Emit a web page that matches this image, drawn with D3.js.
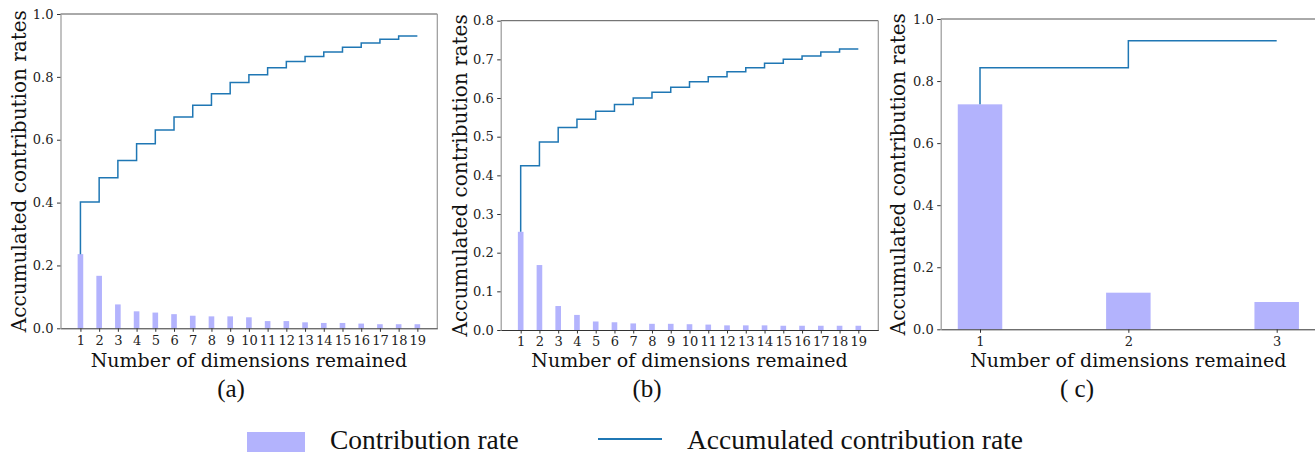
<!DOCTYPE html>
<html>
<head>
<meta charset="utf-8">
<script src="https://cdn.jsdelivr.net/npm/d3@7"></script>
<style>
  body { margin: 0; background: #fff; }
  .tick text { font-family: "DejaVu Serif", serif; font-size: 13px; fill: #222; }
</style>
</head>
<body>
<div id="container"></div>
<script>
/* DATA */
const dims19 = d3.range(1, 20)
const dims3 = [1, 2, 3]

const contribA = [0.236, 0.167, 0.076, 0.054, 0.050, 0.045, 0.040, 0.038, 0.038, 0.035,
  0.023, 0.023, 0.019, 0.017, 0.017, 0.015, 0.013, 0.013, 0.013]
const accumA = [0.236, 0.402, 0.479, 0.534, 0.587, 0.631, 0.672, 0.710, 0.746, 0.782,
  0.807, 0.829, 0.849, 0.865, 0.879, 0.894, 0.908, 0.920, 0.930]

const contribB = [0.254, 0.168, 0.062, 0.039, 0.022, 0.020, 0.017, 0.016, 0.016, 0.015,
  0.014, 0.012, 0.012, 0.012, 0.011, 0.011, 0.011, 0.011, 0.011]
const accumB = [0.254, 0.425, 0.486, 0.524, 0.545, 0.566, 0.583, 0.600, 0.615, 0.628,
  0.642, 0.655, 0.668, 0.678, 0.690, 0.700, 0.709, 0.719, 0.727]

const contribC = [0.725, 0.118, 0.088]
const accumC = [0.725, 0.843, 0.930]

const yTicksAC = [0, 0.2, 0.4, 0.6, 0.8, 1.0]
const yTicksB = [0, 0.1, 0.2, 0.3, 0.4, 0.5, 0.6, 0.7, 0.8]

const captions = ["(a)", "(b)", "( c)"]
const legendLabels = ["Contribution rate", "Accumulated contribution rate"]

/* CONSTANTS */
const width = 1315, height = 455
const barColor = "#b3b3fd", lineColor = "#1f77b4"
const barWidth = 0.3

const svg = d3.select("#container")
  .append("svg")
  .attr("width", width)
  .attr("height", height)

svg.append("rect").attr("width", width).attr("height", height).attr("fill", "#fff")

// pixel frame of each axes
const panels = [
  { dims: dims19, contrib: contribA, accum: accumA, yMax: 1.0, yTicks: yTicksAC,
    left: 60.5, right: 437.3, top: 14, bottom: 328.3, ylabX: 19, capX: 231 },
  { dims: dims19, contrib: contribB, accum: accumB, yMax: 0.8, yTicks: yTicksB,
    left: 500.7, right: 878.3, top: 20.7, bottom: 330, ylabX: 460, capX: 647 },
  { dims: dims3, contrib: contribC, accum: accumC, yMax: 1.0, yTicks: yTicksAC,
    left: 940.7, right: 1316, top: 19, bottom: 329.3, ylabX: 898, capX: 1077 },
]

panels.forEach((p, i) => {
  const n = p.dims.length
  // matplotlib-like auto margins: 5% of the bar extent
  const lo = 1 - barWidth / 2, hi = n + barWidth / 2
  const pad = (hi - lo) * 0.05

  const x = d3.scaleLinear().domain([lo - pad, hi + pad]).range([p.left, p.right])
  const y = d3.scaleLinear().domain([0, p.yMax]).range([p.bottom, p.top])

  const g = svg.append("g")

  // BARS
  g.selectAll("rect.bar")
    .data(p.contrib)
    .join("rect")
    .attr("class", "bar")
    .attr("x", (d, j) => x(p.dims[j] - barWidth / 2))
    .attr("width", (d, j) => x(p.dims[j] + barWidth / 2) - x(p.dims[j] - barWidth / 2))
    .attr("y", d => y(d))
    .attr("height", d => y(0) - y(d))
    .attr("fill", barColor)

  // STEP LINE
  const line = d3.line()
    .x((d, j) => x(p.dims[j]))
    .y(d => y(d))
    .curve(d3.curveStepBefore)

  g.append("path")
    .datum(p.accum)
    .attr("d", line)
    .attr("fill", "none")
    .attr("stroke", lineColor)
    .attr("stroke-width", 1.5)

  // SPINES
  g.append("line").attr("x1", p.left).attr("x2", p.right).attr("y1", p.top).attr("y2", p.top)
    .attr("stroke", "#555").attr("stroke-width", 1)
  g.append("line").attr("x1", p.right).attr("x2", p.right).attr("y1", p.top).attr("y2", p.bottom)
    .attr("stroke", "#999").attr("stroke-width", 1.2)

  // AXES
  const xAxis = g.append("g")
    .attr("transform", `translate(0,${p.bottom})`)
    .call(d3.axisBottom(x).tickValues(p.dims).tickFormat(d3.format("d"))
      .tickSize(3.5).tickPadding(3.5).tickSizeOuter(0))
  xAxis.select(".domain").attr("stroke", "#333")
  xAxis.selectAll(".tick line").attr("stroke", "#333")

  const yAxis = g.append("g")
    .attr("transform", `translate(${p.left},0)`)
    .call(d3.axisLeft(y).tickValues(p.yTicks).tickFormat(d3.format(".1f"))
      .tickSize(3.5).tickPadding(3.5).tickSizeOuter(0))
  yAxis.select(".domain").attr("stroke", "#999").attr("stroke-width", 1.2)
  yAxis.selectAll(".tick line").attr("stroke", "#333")

  // LABELS
  g.append("text")
    .attr("x", (p.left + p.right) / 2)
    .attr("y", 367)
    .attr("text-anchor", "middle")
    .attr("font-family", "DejaVu Serif")
    .attr("font-size", 19)
    .attr("fill", "#111")
    .text("Number of dimensions remained")

  g.append("text")
    .attr("transform", `translate(${p.ylabX},${(p.top + p.bottom) / 2}) rotate(-90)`)
    .attr("text-anchor", "middle")
    .attr("dominant-baseline", "central")
    .attr("font-family", "DejaVu Serif")
    .attr("font-size", 20)
    .attr("fill", "#111")
    .text("Accumulated contribution rates")

  g.append("text")
    .attr("x", p.capX)
    .attr("y", 397)
    .attr("text-anchor", "middle")
    .attr("font-family", "Liberation Serif")
    .attr("font-size", 25)
    .attr("fill", "#111")
    .text(captions[i])
})

// LEGEND
const legend = svg.append("g").attr("font-family", "Liberation Serif").attr("font-size", 27.5).attr("fill", "#111")
legend.append("rect").attr("x", 247).attr("y", 432).attr("width", 58).attr("height", 20).attr("fill", barColor)
legend.append("text").attr("x", 330).attr("y", 449).text(legendLabels[0])
legend.append("line").attr("x1", 598).attr("x2", 662).attr("y1", 439).attr("y2", 439)
  .attr("stroke", lineColor).attr("stroke-width", 2)
legend.append("text").attr("x", 687).attr("y", 449).text(legendLabels[1])
</script>
</body>
</html>
